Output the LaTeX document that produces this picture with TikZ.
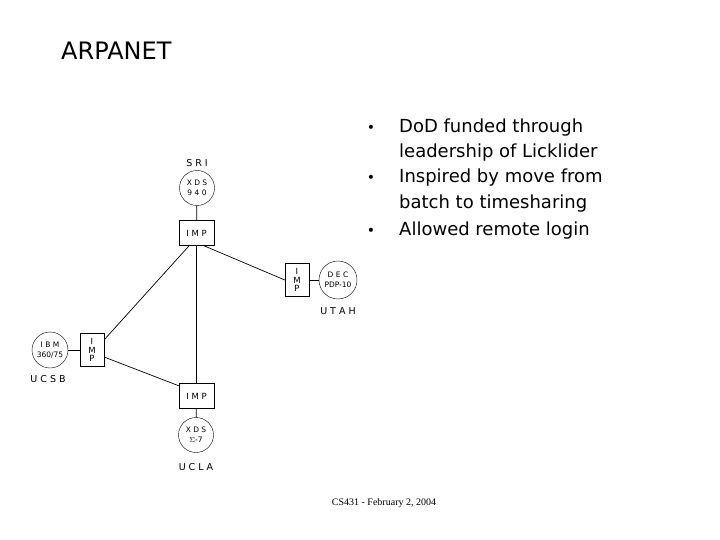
\documentclass[tikz,border=0pt]{standalone}
\usepackage{fontspec}
\setmainfont{Liberation Serif}
\newfontfamily\slidefont{DejaVu Sans}
\newfontfamily\netfont{DejaVu Sans}
\usepackage{tikz}
\usetikzlibrary{positioning}

\begin{document}
\begin{tikzpicture}[
    x=1pt,y=-1pt,
    host/.style={draw, circle, minimum size=35pt, inner sep=0pt, align=center, font=\netfont\fontsize{7.5}{10}\selectfont},
    imp/.style={draw, rectangle, minimum width=35pt, minimum height=25pt, inner sep=0pt, font=\netfont\fontsize{8.5}{9}\selectfont},
    vimp/.style={draw, rectangle, minimum width=24pt, minimum height=33pt, inner sep=0pt, align=center, font=\netfont\fontsize{8.5}{8.5}\selectfont},
    site/.style={font=\netfont\fontsize{9.5}{10}\selectfont},
    line/.style={anchor=base west, inner sep=0pt, font=\slidefont\fontsize{18}{22}\selectfont},
    link/.style={draw, line width=0.7pt}
  ]
    \useasboundingbox (0,0) rectangle (720,540);
    % title
    \node[anchor=base west, font=\slidefont\fontsize{24}{28}\selectfont, inner sep=0pt] (title) at (61,60) {ARPANET};
    % bullets
    \foreach \y/\n in {133/b1,183/b2,236/b3} {
      \node[anchor=base, font=\slidefont\fontsize{14}{16}\selectfont, inner sep=0pt] (\n) at (371,\y) {•};
    }
    \node[line] (t1) at (399,133) {DoD funded through};
    \node[line] (t1b) at (399,158) {leadership of Licklider};
    \node[line] (t2) at (399,183) {Inspired by move from};
    \node[line] (t2b) at (399,208) {batch to timesharing};
    \node[line] (t3) at (399,236) {Allowed remote login};
    % network
    \node[site] (sri) at (197,163) {S R I};
    \node[host] (sri940) at (197,188) {X D S\\9 4 0};
    \node[imp] (sriimp) at (196.5,233) {I M P};
    \node[vimp] (utahimp) at (297,280) {I\\M\\P};
    \node[host, minimum size=38pt] (utahpdp) at (338,280) {D E C\\PDP-10};
    \node[site] (utah) at (338,311) {U T A H};
    \node[host, minimum size=36pt] (ucsbibm) at (50,350) {I B M\\360/75};
    \node[vimp] (ucsbimp) at (92,350) {I\\M\\P};
    \node[site] (ucsb) at (48,379) {U C S B};
    \node[imp] (uclaimp) at (196.5,396) {I M P};
    \node[host] (uclasig) at (196,435) {X D S\\$\Sigma$-7};
    \node[site] (ucla) at (196,467) {U C L A};
    \draw[link] (sri940) -- (sriimp);
    \draw[link] (sriimp.south) -- (uclaimp.north);
    \draw[link] (sriimp.240) -- (ucsbimp.40);
    \draw[link] (sriimp.300) -- (utahimp.west);
    \draw[link] (utahimp) -- (utahpdp);
    \draw[link] (ucsbibm) -- (ucsbimp);
    \draw[link] (ucsbimp.-30) -- (uclaimp.150);
    \draw[link] (uclaimp) -- (uclasig);
    % footer
    \node[font=\fontsize{10}{12}\selectfont] (foot) at (384,503) {CS431 - February 2, 2004};
\end{tikzpicture}
\end{document}
